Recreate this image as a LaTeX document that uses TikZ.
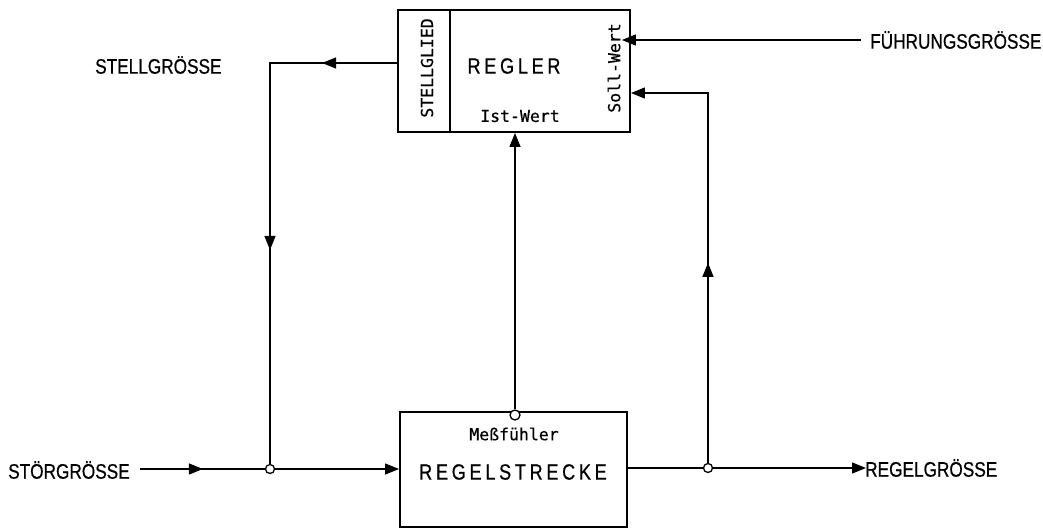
\documentclass[tikz,border=0pt]{standalone}
\usepackage{fontspec}
\setmainfont{Liberation Sans}
\newfontfamily\labfont{Liberation Sans}[FakeStretch=0.82,FakeBold=0.6]
\newfontfamily\boxfont{Liberation Sans}[FakeStretch=0.82,FakeBold=0.6,LetterSpace=17]
\newfontfamily\smallmono{DejaVu Sans Mono}[FakeBold=0.6]
\usetikzlibrary{arrows.meta,decorations.markings}
\tikzset{
  blockbox/.style={draw, line width=1.9pt, inner sep=0pt},
  conn/.style={line width=1.3pt},
  tipA/.tip={Triangle[length=14pt,width=11pt]},
  junc/.style={circle, draw, line width=1.3pt, minimum size=9pt, inner sep=0pt, fill=white},
  midarrow/.style={postaction={decorate}, decoration={markings, mark=at position #1 with {\arrow{tipA}}}},
  midarrowtwo/.style 2 args={postaction={decorate}, decoration={markings, mark=at position #1 with {\arrow{tipA}}, mark=at position #2 with {\arrow{tipA}}}},
  biglabel/.style={font=\labfont\fontsize{21}{25}\selectfont, inner sep=0pt},
  boxlabel/.style={font=\boxfont\fontsize{22}{26}\selectfont, inner sep=0pt},
  monolabel/.style={font=\smallmono\fontsize{16.5}{19}\selectfont, inner sep=0pt},
}
\begin{document}
\begin{tikzpicture}[x=1pt,y=-1pt]
\useasboundingbox (0,0) rectangle (1043,532);
% blocks
\node[blockbox, minimum width=232pt, minimum height=122pt] (regler) at (514,71) {};
\node[blockbox, minimum width=227pt, minimum height=115pt] (strecke) at (513.5,469.5) {};
\draw[line width=1.9pt] ([xshift=53pt]regler.north west) -- ([xshift=53pt]regler.south west);
% texts in blocks
\node[boxlabel] (treg) at (514,66) {REGLER};
\node[monolabel] (tist) at (520,116) {Ist-Wert};
\node[monolabel, rotate=90] (tstg) at (427,68) {STELLGLIED};
\node[monolabel, rotate=90] (tsoll) at (614,68) {Soll-Wert};
\node[monolabel] (tmess) at (514,434) {Meßfühler};
\node[boxlabel] (tstr) at (513,472) {REGELSTRECKE};
% outer labels
\node[biglabel, anchor=west] (stell) at (95,65) {STELLGRÖSSE};
\node[biglabel, anchor=west] (fg) at (870,40) {FÜHRUNGSGRÖSSE};
\node[biglabel, anchor=west] (sg) at (8,470) {STÖRGRÖSSE};
\node[biglabel, anchor=west] (rg) at (865,468) {REGELGRÖSSE};
% junctions
\node[junc] (j1) at (270,469) {};
\node[junc] (j2) at (708,468) {};
\coordinate (sgcorner) at (270,63);
\coordinate (fbtop) at (708,93);
% connectors
\draw[conn,-tipA] ([xshift=-9pt]fg.west) -- ([xshift=-9pt]fg.west -| regler.east);
\draw[conn,-tipA, midarrow=200pt] (j2) -- (fbtop) -- (fbtop -| regler.east);
\draw[conn, midarrowtwo={75pt}{314pt}] (sgcorner -| regler.west) -- (sgcorner) -- (j1);
\draw[conn, midarrow=63pt] ([xshift=10pt]sg.east |- j1) -- (j1);
\draw[conn,-tipA] (j1) -- (j1 -| strecke.west);
\draw[conn] (j2 -| strecke.east) -- (j2);
\draw[conn,-tipA] (j2) -- ([xshift=1pt]rg.west |- j2);
% sensor
\node[junc, minimum size=10pt] (sensor) at (515,415) {};
\draw[conn,-tipA] (sensor) -- (sensor |- regler.south);
\end{tikzpicture}
\end{document}
